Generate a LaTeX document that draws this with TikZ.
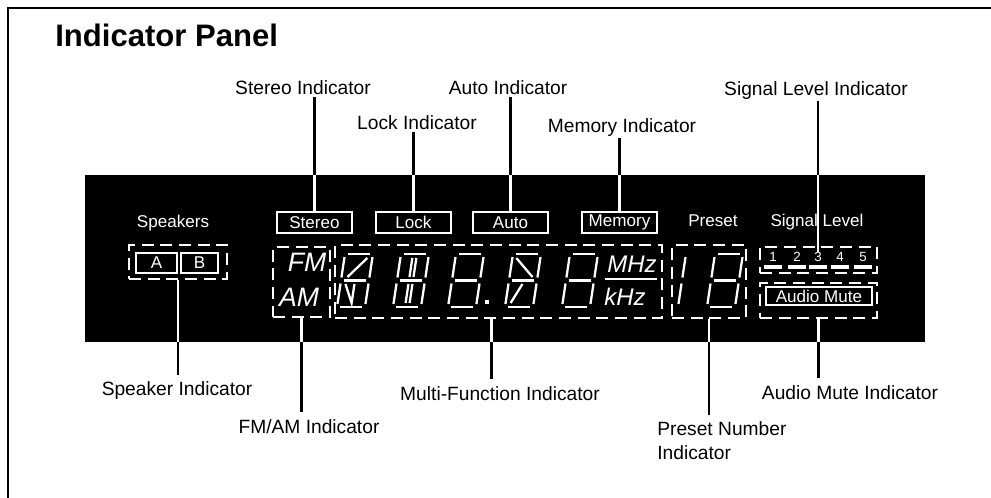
\documentclass[tikz,border=0pt]{standalone}
\usepackage{fontspec}
\setmainfont{Liberation Sans}
\usepackage{tikz}
\newcommand\titletext{\fontsize{23.3}{28}\selectfont\bfseries}
\newcommand\labeltext{\fontsize{14.4}{18}\selectfont}
\newcommand\paneltext{\fontsize{12.8}{15}\selectfont}
\newcommand\bandtext{\fontsize{20}{22}\selectfont\itshape}
\newcommand\unittext{\fontsize{18}{20}\selectfont\itshape}
\tikzset{
  callout/.style={line width=1.6pt},
  lbl/.style={inner sep=0pt, outer sep=1pt, font=\labeltext},
  paneltxt/.style={inner sep=0pt, text=white, font=\paneltext},
  lcdbox/.style 2 args={draw=white, line width=1.1pt, text=white, inner sep=0pt,
    minimum width=#1*0.75pt, minimum height=#2*0.75pt, font=\paneltext},
  lcdframe/.style 2 args={lcdbox={#1}{#2}, line width=1.6pt, dash pattern=on 9pt off 5pt},
  segline/.style={draw=white, line width=1.7pt},
  slanted/.style={x={(0.75pt,0pt)}, y={(-0.1125pt,-0.75pt)}},
}
% one slanted seven segment digit, bottom left at (#1,#2), #3 = extra strokes
\newcommand\lcddigit[3]{%
  \begin{scope}[shift={(#1,#2)}, slanted]
    \draw[segline] (3,-53) -- (25,-53);
    \draw[segline] (3,-26.5) -- (25,-26.5);
    \draw[segline] (3,0) -- (25,0);
    \draw[segline] (28,-50) -- (28,-29.5) (28,-23.5) -- (28,-3);
    \draw[segline] (0,-3) -- (0,-23.5) (0,-29.5) -- (0,-50);
    #3
  \end{scope}}

\begin{document}
\begin{tikzpicture}[x=0.75pt, y=-0.75pt]
\useasboundingbox (0,0) rectangle (991,498);

% page frame and title
\draw[line width=1.1pt] (8,498) -- (8,8) -- (991,8);
\node[font=\titletext, anchor=base west, inner sep=0pt] (title) at (55,47) {Indicator Panel};

% the display
\node[fill=black, inner sep=0pt, minimum width=630pt, minimum height=125.25pt] (panel) at (505,258.5) {};

\node[paneltxt, anchor=base] (spkTxt) at (173,228) {Speakers};
\node[paneltxt, anchor=base] (presetTxt) at (713,227) {Preset};
\node[paneltxt, anchor=base] (signalTxt) at (817,227) {Signal Level};

% speakers
\node[lcdframe={98}{34}] (speakers) at (178,262) {};
\node[lcdbox={41}{20}] (spkA) at (156.5,263) {A};
\node[lcdbox={37}{20}] (spkB) at (199.5,263) {B};

% indicators on top row
\node[lcdbox={75}{21}] (stereoBox) at (314.5,222.5) {Stereo};
\node[lcdbox={75}{21}] (lockBox) at (413.5,222.5) {Lock};
\node[lcdbox={75}{21}] (autoBox) at (510.5,222.5) {Auto};
\node[lcdbox={75}{21}] (memoryBox) at (619.5,222.5) {Memory};

% FM/AM
\node[lcdframe={57}{70}] (fmam) at (301.5,282) {};
\node[paneltxt, font=\bandtext] (fm) at (307,262) {FM};
\node[paneltxt, font=\bandtext] (am) at (299,297) {AM};

% frequency digits
\node[lcdframe={327}{73}] (digits) at (498.5,281.5) {};
\lcddigit{337}{307}{\draw[segline] (23,-49) -- (6,-30) (5,-23) -- (14,-4) -- (14,-23);}
\lcddigit{393}{307}{\draw[segline] (12,-49) -- (12,-30) (16,-49) -- (16,-30) (12,-23) -- (12,-4) (16,-23) -- (16,-4);}
\lcddigit{448}{307}{}
\fill[white] (485,300) rectangle (489,304);
\lcddigit{505}{307}{\draw[segline] (4,-49) -- (23,-30) (5,-4) -- (14,-23);}
\lcddigit{562}{307}{}
\node[paneltxt, font=\unittext] (mhz) at (632,264) {MHz};
\node[paneltxt, font=\unittext] (khz) at (625,297) {kHz};
\draw[segline] (605,279) -- (657,279);

% preset number
\node[lcdframe={74}{73}] (preset) at (709,281.5) {};
\begin{scope}[shift={(678,307)}, slanted]
  \draw[segline] (0,-3) -- (0,-23.5) (0,-29.5) -- (0,-50);
\end{scope}
\lcddigit{707}{307}{}

% signal level and audio mute
\node[lcdframe={117}{26}] (signal) at (818.5,260) {};
\foreach \n/\x in {1/773,2/797,3/818,4/840,5/863} {
  \node[paneltxt, font=\fontsize{10}{12}\selectfont] (lvl\n) at (\x,257) {\n};
  \fill[white] (\x-9,265.5) rectangle (\x+9,269);
}
\node[lcdframe={117}{35}] (mute) at (818.5,300.5) {};
\node[lcdbox={106}{18}] (muteTxt) at (819,296) {Audio Mute};

% labels above
\node[lbl, anchor=base] (lblStereo) at (303,95) {Stereo Indicator};
\node[lbl, anchor=base] (lblLock) at (417,130) {Lock Indicator};
\node[lbl, anchor=base] (lblAuto) at (508,95) {Auto Indicator};
\node[lbl, anchor=base] (lblMemory) at (622,133) {Memory Indicator};
\node[lbl, anchor=base] (lblSignal) at (816,96) {Signal Level Indicator};

\foreach \src/\lab in {stereoBox/lblStereo, lockBox/lblLock, autoBox/lblAuto,
    memoryBox/lblMemory, lvl3/lblSignal} {
  \draw[callout] (\src.north |- \lab.south) -- (\src.north |- panel.north);
  \draw[callout, white] (\src.north |- panel.north) -- (\src.north);
}

% labels below
\node[lbl, anchor=base] (lblSpeaker) at (177,396) {Speaker Indicator};
\node[lbl, anchor=base] (lblFmam) at (309,433) {FM/AM Indicator};
\node[lbl, anchor=base] (lblMulti) at (500,400) {Multi-Function Indicator};
\node[lbl, anchor=north west, align=left] (lblPreset) at (656,420) {Preset Number\\Indicator};
\node[lbl, anchor=base] (lblMute) at (850,399) {Audio Mute Indicator};

\foreach \src/\lab in {speakers/lblSpeaker, fmam/lblFmam, preset/lblPreset, mute/lblMute} {
  \draw[callout, white] (\src.south) -- (\src.south |- panel.south);
  \draw[callout, shorten >=4pt] (\src.south |- panel.south) -- (\src.south |- \lab.north);
}
\coordinate (multiPt) at ([xshift=-5.25pt]digits.south);
\draw[callout, white] (multiPt) -- (multiPt |- panel.south);
\draw[callout, shorten >=4pt] (multiPt |- panel.south) -- (multiPt |- lblMulti.north);

\end{tikzpicture}
\end{document}
